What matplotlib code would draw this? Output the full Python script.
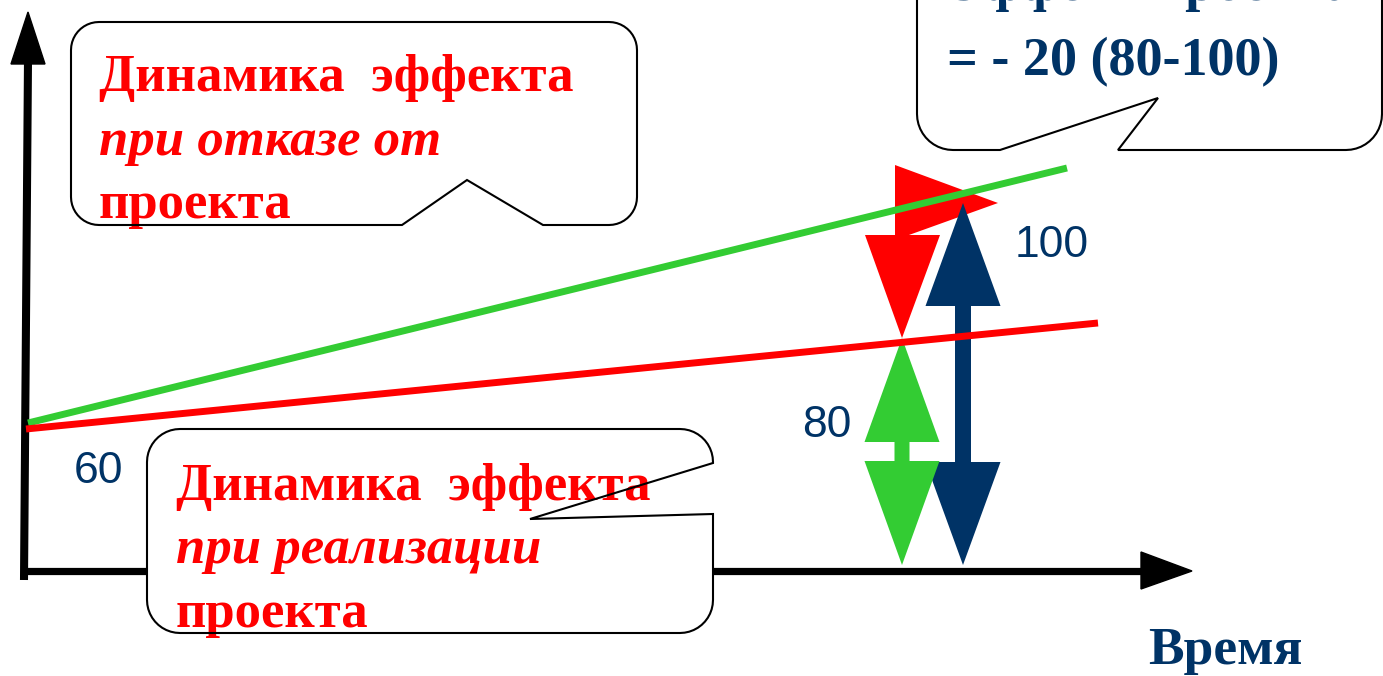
import numpy as np
import matplotlib
matplotlib.use("Agg")
import matplotlib.pyplot as plt
from matplotlib.patches import Polygon

# colours
RED = "#ff0000"
GREEN = "#33cc33"
NAVY = "#003366"

# lines of the effect (pixel coords of the schematic, y grows downwards)
green_x = [28, 1067]
green_y = [423, 168]
red_x = [26, 1098]
red_y = [429, 323]

# value labels
value_labels = ["60", "80", "100"]
value_x = [74, 802, 1015]
value_y = [483, 437, 257]

# callout texts
left_top_lines = ["Динамика  эффекта", "при отказе от", "проекта"]
left_bottom_lines = ["Динамика  эффекта", "при реализации", "проекта"]
right_lines = ["Эффект проекта", "= - 20 (80-100)"]
axis_label = "Время"

fig = plt.figure(figsize=(13.83, 6.76), dpi=100)
ax = fig.add_axes([0, 0, 1, 1])
ax.set_xlim(0, 1383)
ax.set_ylim(676, 0)
ax.axis("off")


def callout(x0, y0, x1, y1, r, notch_edge, notch):
    pts = []

    def arc(cx, cy, a0, a1):
        t = np.radians(np.linspace(a0, a1, 12))
        return list(zip(cx + r * np.cos(t), cy + r * np.sin(t)))

    pts += arc(x1 - r, y0 + r, -90, 0)
    if notch_edge == "right":
        pts += notch
    pts += arc(x1 - r, y1 - r, 0, 90)
    if notch_edge == "bottom":
        pts += notch
    pts += arc(x0 + r, y1 - r, 90, 180)
    pts += arc(x0 + r, y0 + r, 180, 270)
    return pts


boxes = [
    (71, 22, 637, 225, 28, "bottom", [(543, 225), (467, 180), (402, 225)]),
    (147, 429, 713, 633, 33, "right", [(713, 463), (530, 519), (713, 514)]),
    (917, -90, 1382, 150, 36, "bottom", [(1118, 150), (1158, 98), (1000, 150)]),
]
for b in boxes:
    pts = callout(*b)
    ax.add_patch(Polygon(pts, closed=True, facecolor="white", edgecolor="none", zorder=5))
    ax.add_patch(Polygon(pts, closed=True, facecolor="none", edgecolor="black",
                         linewidth=1.5, zorder=7))

# axes of the diagram
ax.plot([24, 28], [580, 60], color="black", linewidth=5.8, solid_capstyle="butt", zorder=1)
ax.add_patch(Polygon([(28, 12), (11, 64), (45, 64)], color="black", zorder=1))
ax.plot([22, 1145], [570.5, 570.5], color="black", linewidth=5.2, solid_capstyle="butt", zorder=1)
ax.add_patch(Polygon([(1192, 571), (1141, 552), (1141, 589)], color="black", zorder=1))


def double_arrow(x, top, bottom, hl, hw, sw, color):
    pts = [(x, top), (x + hw, top + hl), (x + sw, top + hl), (x + sw, bottom - hl),
           (x + hw, bottom - hl), (x, bottom), (x - hw, bottom - hl), (x - sw, bottom - hl),
           (x - sw, top + hl), (x - hw, top + hl)]
    ax.add_patch(Polygon(pts, closed=True, color=color, linewidth=0, zorder=2))


# red bent arrow
ax.add_patch(Polygon([(895, 165), (998, 203), (895, 240)], color=RED, linewidth=0, zorder=2))
ax.add_patch(Polygon([(865, 235), (940, 235), (902, 338)], color=RED, linewidth=0, zorder=2))
double_arrow(963, 203, 565, 103, 37.5, 8, NAVY)
double_arrow(902, 338, 565, 104, 37.5, 7.5, GREEN)

ax.plot(green_x, green_y, color=GREEN, linewidth=5, solid_capstyle="butt", zorder=3)
ax.plot(red_x, red_y, color=RED, linewidth=5, solid_capstyle="butt", zorder=3)

for lab, x, y in zip(value_labels, value_x, value_y):
    ax.text(x, y, lab, color=NAVY, fontsize=32, family="Liberation Sans",
            ha="left", va="baseline", zorder=4)

serif = "Liberation Serif"
for lines, x, y0 in [(left_top_lines, 99, 91), (left_bottom_lines, 176, 500)]:
    for i, s in enumerate(lines):
        ax.text(x, y0 + i * 63.5, s, color=RED, fontsize=38, family=serif,
                weight="bold", style="italic" if i == 1 else "normal",
                ha="left", va="baseline", zorder=6)

for i, s in enumerate(right_lines):
    ax.text(947, 0 + i * 75, s, color=NAVY, fontsize=39, family=serif,
            weight="bold", ha="left", va="baseline", zorder=6)

ax.text(1148, 664, axis_label, color=NAVY, fontsize=38.5, family=serif,
        weight="bold", ha="left", va="baseline", zorder=6)

fig.savefig("out.png", dpi=100)
